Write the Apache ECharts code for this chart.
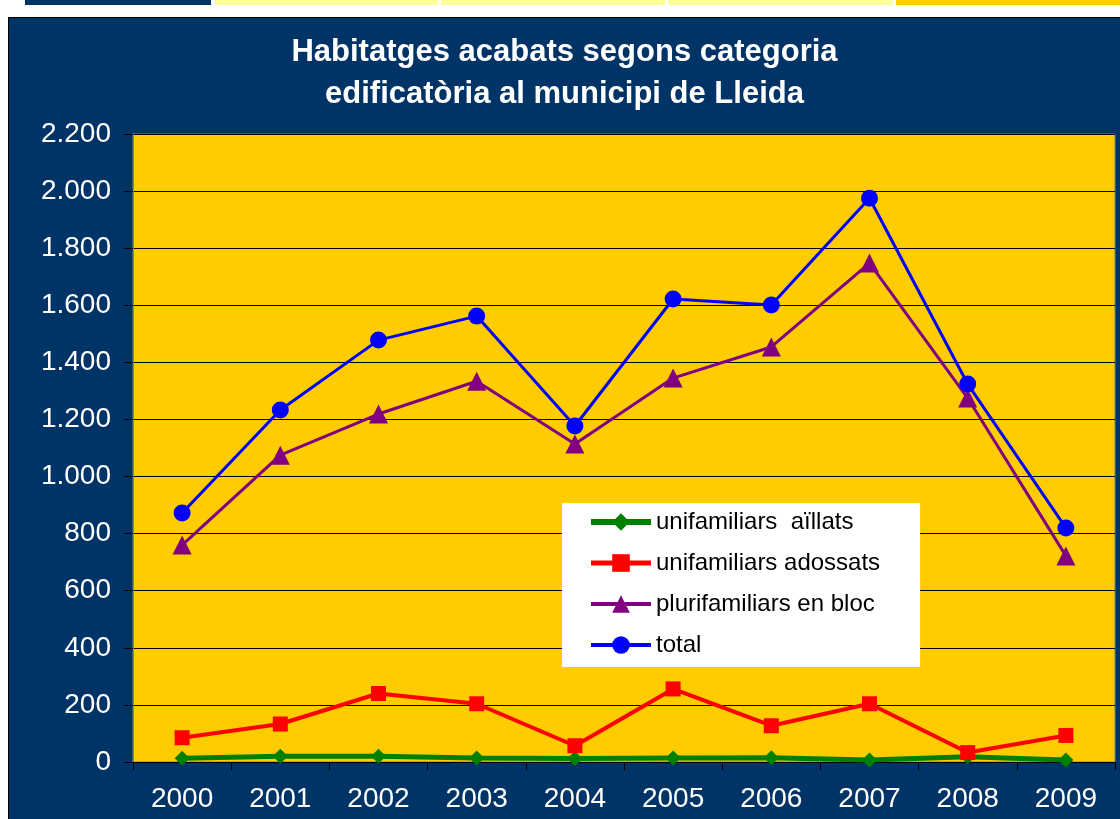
<!DOCTYPE html>
<html><head><meta charset="utf-8">
<script src="https://cdn.jsdelivr.net/npm/echarts@6/dist/echarts.min.js"></script>
<style>
html,body{margin:0;padding:0;background:#fff;width:1120px;height:819px;overflow:hidden;position:relative}
.strip{position:absolute;top:0;height:5px}
#chart{position:absolute;left:8px;top:17px;width:1112px;height:802px;background:#003366;border-top:1px solid #000;border-left:1px solid #000;box-sizing:border-box}
</style></head>
<body>
<div class="strip" style="left:25px;width:186px;background:#003366"></div>
<div class="strip" style="left:215px;width:223px;background:#FFFF99"></div>
<div class="strip" style="left:441px;width:224px;background:#FFFF99"></div>
<div class="strip" style="left:668px;width:225px;background:#FFFF99"></div>
<div class="strip" style="left:896px;width:224px;background:#FFCC00"></div>
<div id="chart"></div>
<script>
const titleLines = ['Habitatges acabats segons categoria', 'edificatòria al municipi de Lleida'];
const years = ['2000','2001','2002','2003','2004','2005','2006','2007','2008','2009'];
const aillats = [13, 20, 20, 14, 12, 14, 15, 7, 18, 7];
const adossats = [85, 133, 240, 204, 57, 256, 127, 204, 33, 93];
const pluri = [760, 1075, 1219, 1334, 1114, 1345, 1454, 1748, 1275, 722];
const total = [872, 1233, 1478, 1562, 1177, 1622, 1601, 1975, 1324, 820];
const seriesNames = ['unifamiliars  aïllats', 'unifamiliars adossats', 'plurifamiliars en bloc', 'total'];
const seriesColors = ['#008000', '#FF0000', '#800080', '#0000FF'];
const lineWidths = [5, 4, 3, 3];

const FONT = '"Liberation Sans", Arial, sans-serif';
const chart = echarts.init(document.getElementById('chart'));
chart.setOption({
  animation: false,
  title: {
    text: titleLines.join('\n'),
    left: 'center',
    top: 8,
    padding: [5, 0, 5, 14],
    textStyle: { color: '#fff', fontFamily: FONT, fontWeight: 'bold', fontSize: 31, lineHeight: 42 }
  },
  grid: {
    left: 124, top: 116, right: 5, bottom: 57,
    show: true, backgroundColor: '#FFCC00', borderColor: '#808080', borderWidth: 1
  },
  legend: {
    orient: 'vertical',
    left: 553, top: 485,
    backgroundColor: '#fff',
    padding: [7, 40, 10, 26],
    itemWidth: 60, itemHeight: 22, itemGap: 17,
    textStyle: { color: '#000', fontFamily: FONT, fontSize: 24 },
    data: seriesNames.map((n, i) => ({ name: n, lineStyle: { width: lineWidths[i] + 1, color: seriesColors[i] } }))
  },
  xAxis: {
    type: 'category',
    data: years,
    boundaryGap: true,
    axisLine: { lineStyle: { color: '#000', width: 1 } },
    axisTick: { show: true, length: 8, lineStyle: { color: '#000' } },
    axisLabel: { color: '#fff', fontFamily: FONT, fontSize: 28, margin: 23 }
  },
  yAxis: {
    type: 'value',
    min: 0, max: 2200, interval: 200,
    axisLine: { show: true, lineStyle: { color: '#808080' } },
    axisTick: { show: true, length: 9, lineStyle: { color: '#000' } },
    axisLabel: {
      color: '#fff', fontFamily: FONT, fontSize: 28, margin: 22,
      formatter: v => v >= 1000 ? Math.floor(v/1000) + '.' + String(v % 1000).padStart(3, '0') : String(v)
    },
    splitLine: { show: true, lineStyle: { color: '#000', width: 1 } }
  },
  series: [
    { name: seriesNames[0], type: 'line', data: aillats, color: seriesColors[0],
      lineStyle: { width: lineWidths[0], color: seriesColors[0] }, symbol: 'diamond', symbolSize: 15,
      itemStyle: { color: seriesColors[0] }, z: 2 },
    { name: seriesNames[1], type: 'line', data: adossats, color: seriesColors[1],
      lineStyle: { width: lineWidths[1], color: seriesColors[1] }, symbol: 'rect', symbolSize: 15,
      itemStyle: { color: seriesColors[1] }, z: 3 },
    { name: seriesNames[2], type: 'line', data: pluri, color: seriesColors[2],
      lineStyle: { width: lineWidths[2], color: seriesColors[2] }, symbol: 'triangle', symbolSize: 19,
      itemStyle: { color: seriesColors[2] }, z: 4 },
    { name: seriesNames[3], type: 'line', data: total, color: seriesColors[3],
      lineStyle: { width: lineWidths[3], color: seriesColors[3] }, symbol: 'circle', symbolSize: 17,
      itemStyle: { color: seriesColors[3] }, z: 5 }
  ]
});
</script>
</body></html>
